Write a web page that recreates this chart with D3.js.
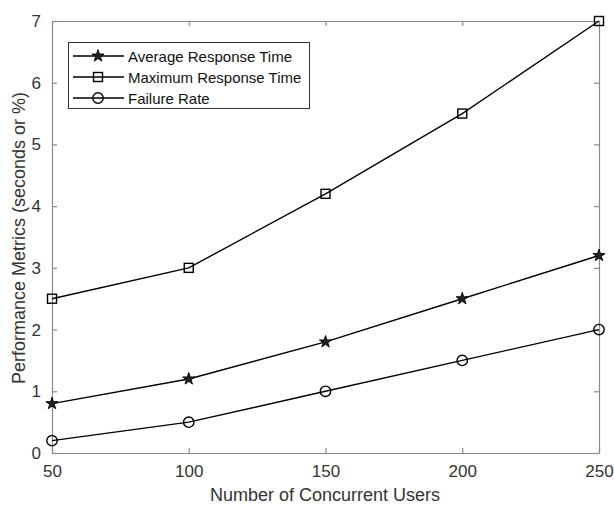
<!DOCTYPE html>
<html><head><meta charset="utf-8">
<script src="https://cdn.jsdelivr.net/npm/d3@7"></script>
<style>body{margin:0;background:#fff}svg{display:block}text{font-family:"Liberation Sans",Arial,sans-serif}</style>
</head><body>
<svg id="c" width="614" height="505"></svg>
<script>
const users = [50, 100, 150, 200, 250];
const avgResponse = [0.8, 1.2, 1.8, 2.5, 3.2];
const maxResponse = [2.5, 3.0, 4.2, 5.5, 7.0];
const failureRate = [0.2, 0.5, 1.0, 1.5, 2.0];
const xTicks = [50, 100, 150, 200, 250];
const yTicks = [0, 1, 2, 3, 4, 5, 6, 7];
const seriesNames = ["Average Response Time", "Maximum Response Time", "Failure Rate"];
const seriesMarkers = ["star", "square", "circle"];

const svg = d3.select("#c");
const L = 52, R = 599, T = 21, B = 453;
const x = d3.scaleLinear().domain([50, 250]).range([L, R]);
const y = d3.scaleLinear().domain([0, 7]).range([B, T]);
const axisCol = "#8a8a8a", textCol = "#333";

const g = svg.append("g");
const ax = g.append("g").attr("transform", `translate(0,${B})`).call(d3.axisBottom(x).tickValues(xTicks).tickFormat(d3.format("d")).tickSizeInner(-5).tickSizeOuter(0).tickPadding(12));
const at = g.append("g").attr("transform", `translate(0,${T})`).call(d3.axisTop(x).tickValues(xTicks).tickSizeInner(-5).tickSizeOuter(0).tickFormat(""));
const ay = g.append("g").attr("transform", `translate(${L},0)`).call(d3.axisLeft(y).tickValues(yTicks).tickFormat(d3.format("d")).tickSizeInner(-5).tickSizeOuter(0).tickPadding(11));
const ar = g.append("g").attr("transform", `translate(${R},0)`).call(d3.axisRight(y).tickValues(yTicks).tickSizeInner(-5).tickSizeOuter(0).tickFormat(""));
[ax, at, ay, ar].forEach(a => {
  a.selectAll("path,line").attr("stroke", axisCol).attr("stroke-width", 1.2);
  a.selectAll("text").attr("fill", textCol).style("font-size", "17px").style("font-family", '"Liberation Sans",Arial,sans-serif');
});

svg.append("text").attr("x", (L + R) / 2 - 0.5).attr("y", 501).attr("text-anchor", "middle")
  .attr("fill", textCol).style("font-size", "18px").text("Number of Concurrent Users");
svg.append("text").attr("transform", `translate(25,${(T + B) / 2 + 1}) rotate(-90)`).attr("text-anchor", "middle")
  .attr("fill", textCol).style("font-size", "18px").text("Performance Metrics (seconds or %)");

const symStar = d3.symbol().type(d3.symbolStar).size(46);
function drawMarker(sel, type) {
  if (type === "star") sel.append("path").attr("d", symStar()).attr("fill", "#222").attr("stroke", "#000").attr("stroke-width", 0.9);
  else if (type === "square") sel.append("rect").attr("x", -4.5).attr("y", -4.5).attr("width", 9).attr("height", 9).attr("fill", "none").attr("stroke", "#000").attr("stroke-width", 1.4);
  else sel.append("circle").attr("r", 5.2).attr("fill", "none").attr("stroke", "#000").attr("stroke-width", 1.4);
}

const data = [avgResponse, maxResponse, failureRate];
const line = d3.line().x((d, i) => x(users[i])).y(d => y(d));
data.forEach((vals, k) => {
  svg.append("path").datum(vals).attr("d", line).attr("fill", "none").attr("stroke", "#000").attr("stroke-width", 1.4);
  vals.forEach((v, i) => {
    const m = svg.append("g").attr("transform", `translate(${x(users[i])},${y(v)})`);
    drawMarker(m, seriesMarkers[k]);
  });
});

const lg = svg.append("g");
lg.append("rect").attr("x", 68.5).attr("y", 42.5).attr("width", 241).attr("height", 66).attr("fill", "#fff").attr("stroke", "#333").attr("stroke-width", 1);
seriesNames.forEach((name, k) => {
  const yy = 56 + k * 21;
  lg.append("line").attr("x1", 73).attr("x2", 124).attr("y1", yy).attr("y2", yy).attr("stroke", "#000").attr("stroke-width", 1.4);
  const m = lg.append("g").attr("transform", `translate(98,${yy})`);
  drawMarker(m, seriesMarkers[k]);
  lg.append("text").attr("x", 128).attr("y", yy + 5.5).attr("fill", "#111").style("font-size", "15px").text(name);
});
</script>
</body></html>
